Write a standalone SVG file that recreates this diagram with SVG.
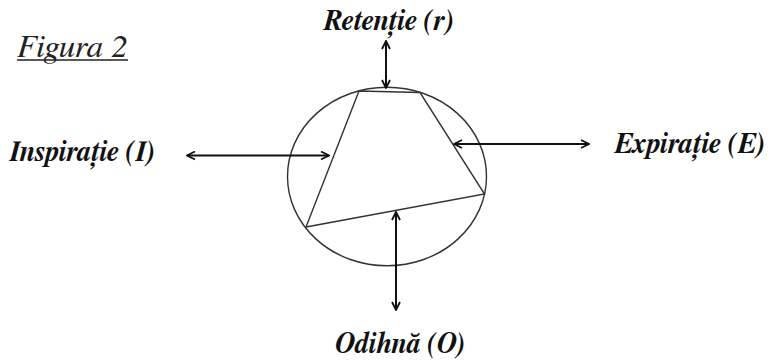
<svg xmlns="http://www.w3.org/2000/svg" width="770" height="360" viewBox="0 0 770 360">
<style>
text{font-family:FreeSerif,'Liberation Serif','DejaVu Serif',serif}
.lbl{font-style:italic;font-weight:bold;font-size:29.5px;fill:#111}
.ttl{font-style:italic;font-size:32px;fill:#222}
.shape{fill:none;stroke:#333;stroke-width:1.4}
.arr{fill:none;stroke:#111;stroke-width:2;marker-start:url(#ah);marker-end:url(#ah)}
</style>
<defs>
<marker id="ah" viewBox="0 0 10 10" refX="9" refY="5" markerWidth="10" markerHeight="10" markerUnits="userSpaceOnUse" orient="auto-start-reverse">
<path d="M1,1 L9,5 L1,9" fill="none" stroke="#111" stroke-width="1.8"/>
</marker>
</defs>
<rect width="770" height="360" fill="#fff"/>
<g id="title">
<text class="ttl" x="17" y="56.5" textLength="111" lengthAdjust="spacingAndGlyphs">Figura 2</text>
<line x1="17" y1="60" x2="128" y2="60" stroke="#222" stroke-width="1.4"/>
</g>
<g id="cycle">
<ellipse class="shape" cx="387" cy="176.5" rx="99.5" ry="89.3"/>
<polygon class="shape" points="359,91 420,92.5 484.5,194 306,227"/>
</g>
<g id="node-retentie">
<text class="lbl" x="323" y="30" textLength="131" lengthAdjust="spacingAndGlyphs">Retenție (r)</text>
</g>
<g id="node-inspiratie">
<text class="lbl" x="9" y="160.5" textLength="146" lengthAdjust="spacingAndGlyphs">Inspirație (I)</text>
</g>
<g id="node-expiratie">
<text class="lbl" x="614" y="153" textLength="151" lengthAdjust="spacingAndGlyphs">Expirație (E)</text>
</g>
<g id="node-odihna">
<text class="lbl" x="335" y="353" textLength="130" lengthAdjust="spacingAndGlyphs">Odihnă (O)</text>
</g>
<g id="connectors">
<line class="arr" x1="386" y1="41" x2="386" y2="88"/>
<line class="arr" x1="187" y1="155.5" x2="329" y2="155.5"/>
<line class="arr" x1="454" y1="144" x2="589" y2="144"/>
<line class="arr" x1="396" y1="212" x2="396" y2="310"/>
</g>
</svg>
